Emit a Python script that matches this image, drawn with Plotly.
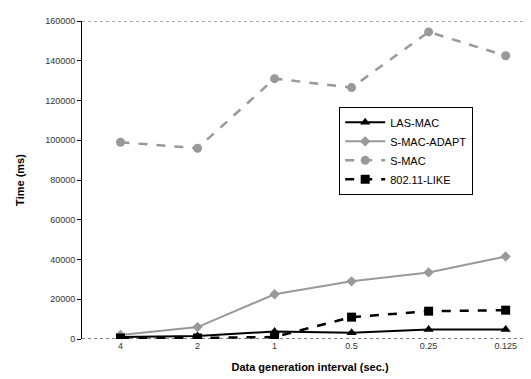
import plotly.graph_objects as go

categories = ["4", "2", "1", "0.5", "0.25", "0.125"]
las_mac = [1000, 1500, 3800, 3200, 4800, 4800]
s_mac_adapt = [2000, 6000, 22500, 29000, 33500, 41500]
s_mac = [99000, 96000, 131000, 126500, 154500, 142500]
ieee_like = [500, 500, 1000, 11000, 14000, 14500]
y_ticks = [0, 20000, 40000, 60000, 80000, 100000, 120000, 140000, 160000]
y_tick_labels = [str(v) for v in y_ticks]

x = list(range(len(categories)))
fig = go.Figure()
fig.add_trace(go.Scatter(x=x, y=las_mac, name="LAS-MAC", mode="lines+markers",
                         line=dict(color="black", width=2),
                         marker=dict(symbol="triangle-up", size=9, color="black")))
fig.add_trace(go.Scatter(x=x, y=s_mac_adapt, name="S-MAC-ADAPT", mode="lines+markers",
                         line=dict(color="#999999", width=2),
                         marker=dict(symbol="diamond", size=8, color="#999999")))
fig.add_trace(go.Scatter(x=x, y=s_mac, name="S-MAC", mode="lines+markers",
                         line=dict(color="#999999", width=2.5, dash="dash"),
                         marker=dict(symbol="circle", size=9, color="#999999")))
fig.add_trace(go.Scatter(x=x, y=ieee_like, name="802.11-LIKE", mode="lines+markers",
                         line=dict(color="black", width=2.5, dash="dash"),
                         marker=dict(symbol="square", size=9, color="black")))

fig.add_shape(type="line", xref="paper", yref="y", x0=0, x1=1, y0=160000, y1=160000,
              line=dict(color="#555555", width=1, dash="dot"))
fig.add_shape(type="line", xref="paper", yref="y", x0=0, x1=1, y0=0, y1=0,
              line=dict(color="#555555", width=1.5, dash="dot"), layer="below")

fig.update_layout(
    width=531, height=379,
    margin=dict(l=74, r=1, t=13, b=48),
    paper_bgcolor="white", plot_bgcolor="white",
    font=dict(family="Liberation Sans, Arial", size=9, color="#333333"),
    showlegend=True,
    legend=dict(x=0.564, y=0.73, xanchor="left", yanchor="top",
                bordercolor="black", borderwidth=1, bgcolor="white",
                font=dict(size=11, color="black"), tracegroupgap=0,
                itemwidth=40),
    xaxis=dict(range=[-0.5, 5.42], tickmode="array", tickvals=x, ticktext=categories,
               showgrid=False, zeroline=False, showline=False, ticks="",
               title=dict(text="<b>Data generation interval (sec.)</b>",
                          font=dict(size=11, color="black"), standoff=13)),
    yaxis=dict(range=[0, 160000], tickmode="array", tickvals=y_ticks,
               ticktext=y_tick_labels,
               showgrid=False, zeroline=False, showline=True, linecolor="black",
               linewidth=1, ticks="outside", ticklen=4, tickcolor="black",
               title=dict(text="<b>Time (ms)</b>", font=dict(size=11, color="black"),
                          standoff=18)),
)
fig.write_html("out.html")
